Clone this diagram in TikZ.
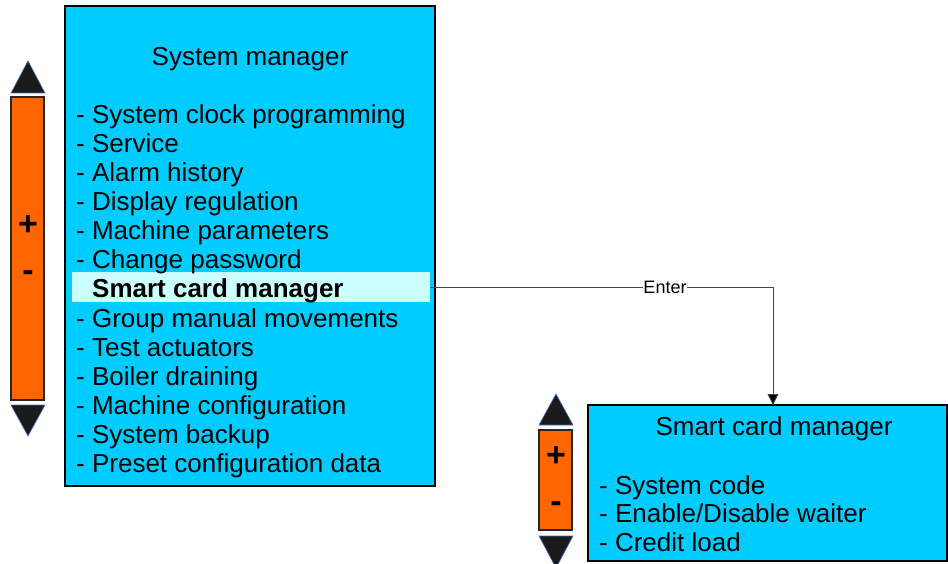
\documentclass[tikz,border=0pt]{standalone}
\usepackage{fontspec}
\setmainfont{Liberation Sans}
\usetikzlibrary{arrows.meta}
\definecolor{boxcyan}{RGB}{0,204,255}
\definecolor{hlcyan}{RGB}{204,255,255}
\definecolor{sliderorange}{RGB}{255,102,0}
\definecolor{tridark}{RGB}{26,26,26}
\definecolor{triedge}{RGB}{68,114,196}
\definecolor{linegray}{RGB}{70,70,70}
\begin{document}
\begin{tikzpicture}[x=1pt,y=-1pt,
  panel/.style={draw=black,line width=2pt,fill=boxcyan,inner sep=0pt},
  hilite/.style={fill=hlcyan,draw=none,inner sep=0pt,minimum width=358pt,minimum height=30pt},
  sliderbar/.style={draw=black!85,line width=2pt,fill=sliderorange,inner sep=0pt},
  arrowtri/.style={fill=tridark,draw=triedge,line width=0.6pt},
  bigtext/.style={font=\fontsize{26}{30}\selectfont,inner sep=0pt},
  itemtext/.style={bigtext,anchor=base west},
  signtext/.style={font=\fontsize{34}{36}\selectfont\bfseries,inner sep=0pt},
  link/.style={draw=linegray,line width=0.9pt,-{Triangle[length=11pt,width=11pt,fill=black]}},
  linklabel/.style={font=\fontsize{18}{20}\selectfont,fill=white,inner sep=0.5pt}
]
\useasboundingbox (0,0) rectangle (948,564);
\fill[white] (0,0) rectangle (948,564);

% main panel
\node[panel,minimum width=370pt,minimum height=480pt] (sm) at (250,246) {};
\node[hilite] (hl) at (251,287) {};
\node[bigtext,anchor=base] (smt) at (250,66) {System manager};
\foreach \t [count=\k] in {System clock programming,Service,Alarm history,Display regulation,Machine parameters,Change password,{},Group manual movements,Test actuators,Boiler draining,Machine configuration,System backup,Preset configuration data}{
  \ifnum\k=7\else
  \node[itemtext] (i\k) at (76,{124+29*(\k-1)}) {- \t};
  \fi
}
\node[itemtext,font=\fontsize{26}{30}\selectfont\bfseries] (i7) at (92,297) {Smart card manager};

% left slider
\fill[arrowtri] (11,93) -- (45,93) -- (28,61) -- cycle;
\node[sliderbar,minimum width=33pt,minimum height=303pt] (s1) at (27.5,248.5) {};
\fill[arrowtri] (11,405) -- (45,405) -- (28,436) -- cycle;
\node[signtext] (p1) at (28,226) {+};
\node[signtext] (m1) at (28,276) {-};

% second panel
\node[panel,minimum width=359pt,minimum height=156pt] (scm) at (767.5,483) {};
\node[bigtext,anchor=base] (scmt) at (774,435) {Smart card manager};
\node[itemtext] (j1) at (599,494) {- System code};
\node[itemtext] (j2) at (599,522) {- Enable/Disable waiter};
\node[itemtext] (j3) at (599,551) {- Credit load};

% second slider
\fill[arrowtri] (539,425) -- (573,425) -- (556,394) -- cycle;
\node[sliderbar,minimum width=33pt,minimum height=100pt] (s2) at (555.5,480) {};
\fill[arrowtri] (539,536) -- (573,536) -- (556,568) -- cycle;
\node[signtext] (p2) at (556,457) {+};
\node[signtext] (m2) at (556,507) {-};

% connector
\coordinate (tgt) at (773,405);
\draw[link] (hl.east) -| (tgt);
\node[linklabel] (enter) at (665,287) {Enter};
\end{tikzpicture}
\end{document}
